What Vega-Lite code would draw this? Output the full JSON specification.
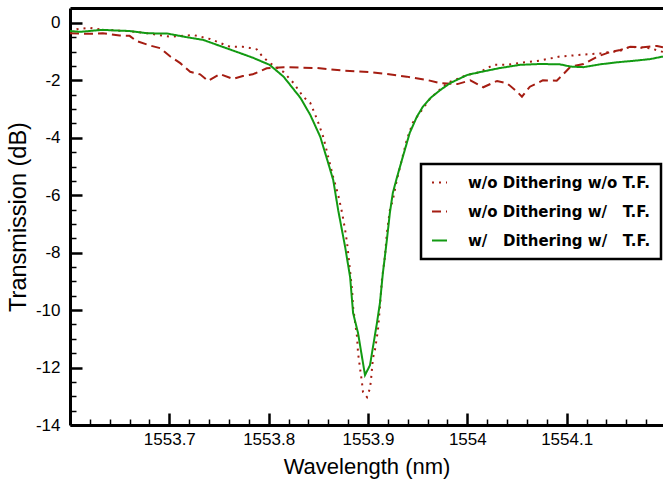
{
  "$schema": "https://vega.github.io/schema/vega-lite/v6.json",
  "width": 593,
  "height": 417,
  "autosize": {"type": "none"},
  "padding": {"left": 70, "top": 8, "right": 0, "bottom": 55},
  "background": "white",
  "config": {
    "view": {"stroke": null},
    "font": "Liberation Sans",
    "legend": {"strokeWidth": 2.5},
    "axis": {"domainColor": "black", "tickColor": "black", "labelColor": "black", "titleColor": "black", "grid": false, "labelFont": "Liberation Sans", "titleFont": "Liberation Sans"}
  },
  "data": {
    "values": [
      {"series": "w/o Dithering w/o T.F.", "wl": 1553.600, "t": -0.31},
      {"series": "w/o Dithering w/o T.F.", "wl": 1553.607, "t": -0.22},
      {"series": "w/o Dithering w/o T.F.", "wl": 1553.620, "t": -0.17},
      {"series": "w/o Dithering w/o T.F.", "wl": 1553.633, "t": -0.24},
      {"series": "w/o Dithering w/o T.F.", "wl": 1553.657, "t": -0.28},
      {"series": "w/o Dithering w/o T.F.", "wl": 1553.678, "t": -0.36},
      {"series": "w/o Dithering w/o T.F.", "wl": 1553.701, "t": -0.48},
      {"series": "w/o Dithering w/o T.F.", "wl": 1553.724, "t": -0.42},
      {"series": "w/o Dithering w/o T.F.", "wl": 1553.741, "t": -0.56},
      {"series": "w/o Dithering w/o T.F.", "wl": 1553.761, "t": -0.83},
      {"series": "w/o Dithering w/o T.F.", "wl": 1553.774, "t": -0.83},
      {"series": "w/o Dithering w/o T.F.", "wl": 1553.781, "t": -0.87},
      {"series": "w/o Dithering w/o T.F.", "wl": 1553.788, "t": -0.92},
      {"series": "w/o Dithering w/o T.F.", "wl": 1553.794, "t": -1.18},
      {"series": "w/o Dithering w/o T.F.", "wl": 1553.801, "t": -1.39},
      {"series": "w/o Dithering w/o T.F.", "wl": 1553.815, "t": -1.71},
      {"series": "w/o Dithering w/o T.F.", "wl": 1553.825, "t": -2.09},
      {"series": "w/o Dithering w/o T.F.", "wl": 1553.835, "t": -2.58},
      {"series": "w/o Dithering w/o T.F.", "wl": 1553.842, "t": -2.79},
      {"series": "w/o Dithering w/o T.F.", "wl": 1553.849, "t": -3.38},
      {"series": "w/o Dithering w/o T.F.", "wl": 1553.855, "t": -3.97},
      {"series": "w/o Dithering w/o T.F.", "wl": 1553.860, "t": -4.67},
      {"series": "w/o Dithering w/o T.F.", "wl": 1553.865, "t": -5.37},
      {"series": "w/o Dithering w/o T.F.", "wl": 1553.870, "t": -5.99},
      {"series": "w/o Dithering w/o T.F.", "wl": 1553.874, "t": -6.62},
      {"series": "w/o Dithering w/o T.F.", "wl": 1553.877, "t": -7.21},
      {"series": "w/o Dithering w/o T.F.", "wl": 1553.879, "t": -7.67},
      {"series": "w/o Dithering w/o T.F.", "wl": 1553.884, "t": -9.30},
      {"series": "w/o Dithering w/o T.F.", "wl": 1553.885, "t": -9.89},
      {"series": "w/o Dithering w/o T.F.", "wl": 1553.889, "t": -10.94},
      {"series": "w/o Dithering w/o T.F.", "wl": 1553.890, "t": -11.50},
      {"series": "w/o Dithering w/o T.F.", "wl": 1553.892, "t": -12.02},
      {"series": "w/o Dithering w/o T.F.", "wl": 1553.894, "t": -12.54},
      {"series": "w/o Dithering w/o T.F.", "wl": 1553.895, "t": -12.86},
      {"series": "w/o Dithering w/o T.F.", "wl": 1553.899, "t": -13.03},
      {"series": "w/o Dithering w/o T.F.", "wl": 1553.902, "t": -12.72},
      {"series": "w/o Dithering w/o T.F.", "wl": 1553.903, "t": -12.44},
      {"series": "w/o Dithering w/o T.F.", "wl": 1553.905, "t": -11.67},
      {"series": "w/o Dithering w/o T.F.", "wl": 1553.907, "t": -11.39},
      {"series": "w/o Dithering w/o T.F.", "wl": 1553.910, "t": -10.70},
      {"series": "w/o Dithering w/o T.F.", "wl": 1553.912, "t": -9.89},
      {"series": "w/o Dithering w/o T.F.", "wl": 1553.914, "t": -8.95},
      {"series": "w/o Dithering w/o T.F.", "wl": 1553.917, "t": -8.15},
      {"series": "w/o Dithering w/o T.F.", "wl": 1553.919, "t": -7.32},
      {"series": "w/o Dithering w/o T.F.", "wl": 1553.922, "t": -6.52},
      {"series": "w/o Dithering w/o T.F.", "wl": 1553.925, "t": -6.17},
      {"series": "w/o Dithering w/o T.F.", "wl": 1553.929, "t": -5.47},
      {"series": "w/o Dithering w/o T.F.", "wl": 1553.934, "t": -4.77},
      {"series": "w/o Dithering w/o T.F.", "wl": 1553.939, "t": -4.08},
      {"series": "w/o Dithering w/o T.F.", "wl": 1553.945, "t": -3.48},
      {"series": "w/o Dithering w/o T.F.", "wl": 1553.963, "t": -2.61},
      {"series": "w/o Dithering w/o T.F.", "wl": 1553.980, "t": -2.09},
      {"series": "w/o Dithering w/o T.F.", "wl": 1554.000, "t": -1.81},
      {"series": "w/o Dithering w/o T.F.", "wl": 1554.013, "t": -1.71},
      {"series": "w/o Dithering w/o T.F.", "wl": 1554.026, "t": -1.46},
      {"series": "w/o Dithering w/o T.F.", "wl": 1554.040, "t": -1.46},
      {"series": "w/o Dithering w/o T.F.", "wl": 1554.053, "t": -1.39},
      {"series": "w/o Dithering w/o T.F.", "wl": 1554.073, "t": -1.31},
      {"series": "w/o Dithering w/o T.F.", "wl": 1554.093, "t": -1.17},
      {"series": "w/o Dithering w/o T.F.", "wl": 1554.114, "t": -1.11},
      {"series": "w/o Dithering w/o T.F.", "wl": 1554.134, "t": -1.06},
      {"series": "w/o Dithering w/o T.F.", "wl": 1554.154, "t": -0.97},
      {"series": "w/o Dithering w/o T.F.", "wl": 1554.164, "t": -0.83},
      {"series": "w/o Dithering w/o T.F.", "wl": 1554.174, "t": -0.86},
      {"series": "w/o Dithering w/o T.F.", "wl": 1554.184, "t": -0.88},
      {"series": "w/o Dithering w/o T.F.", "wl": 1554.197, "t": -1.01},

      {"series": "w/o Dithering w/\u00a0\u00a0\u00a0T.F.", "wl": 1553.600, "t": -0.36},
      {"series": "w/o Dithering w/\u00a0\u00a0\u00a0T.F.", "wl": 1553.617, "t": -0.38},
      {"series": "w/o Dithering w/\u00a0\u00a0\u00a0T.F.", "wl": 1553.633, "t": -0.36},
      {"series": "w/o Dithering w/\u00a0\u00a0\u00a0T.F.", "wl": 1553.650, "t": -0.44},
      {"series": "w/o Dithering w/\u00a0\u00a0\u00a0T.F.", "wl": 1553.660, "t": -0.45},
      {"series": "w/o Dithering w/\u00a0\u00a0\u00a0T.F.", "wl": 1553.667, "t": -0.63},
      {"series": "w/o Dithering w/\u00a0\u00a0\u00a0T.F.", "wl": 1553.681, "t": -0.79},
      {"series": "w/o Dithering w/\u00a0\u00a0\u00a0T.F.", "wl": 1553.691, "t": -0.88},
      {"series": "w/o Dithering w/\u00a0\u00a0\u00a0T.F.", "wl": 1553.701, "t": -1.17},
      {"series": "w/o Dithering w/\u00a0\u00a0\u00a0T.F.", "wl": 1553.711, "t": -1.40},
      {"series": "w/o Dithering w/\u00a0\u00a0\u00a0T.F.", "wl": 1553.721, "t": -1.70},
      {"series": "w/o Dithering w/\u00a0\u00a0\u00a0T.F.", "wl": 1553.731, "t": -1.79},
      {"series": "w/o Dithering w/\u00a0\u00a0\u00a0T.F.", "wl": 1553.739, "t": -2.02},
      {"series": "w/o Dithering w/\u00a0\u00a0\u00a0T.F.", "wl": 1553.751, "t": -1.78},
      {"series": "w/o Dithering w/\u00a0\u00a0\u00a0T.F.", "wl": 1553.764, "t": -1.95},
      {"series": "w/o Dithering w/\u00a0\u00a0\u00a0T.F.", "wl": 1553.774, "t": -1.85},
      {"series": "w/o Dithering w/\u00a0\u00a0\u00a0T.F.", "wl": 1553.784, "t": -1.79},
      {"series": "w/o Dithering w/\u00a0\u00a0\u00a0T.F.", "wl": 1553.798, "t": -1.58},
      {"series": "w/o Dithering w/\u00a0\u00a0\u00a0T.F.", "wl": 1553.815, "t": -1.54},
      {"series": "w/o Dithering w/\u00a0\u00a0\u00a0T.F.", "wl": 1553.849, "t": -1.57},
      {"series": "w/o Dithering w/\u00a0\u00a0\u00a0T.F.", "wl": 1553.875, "t": -1.66},
      {"series": "w/o Dithering w/\u00a0\u00a0\u00a0T.F.", "wl": 1553.902, "t": -1.71},
      {"series": "w/o Dithering w/\u00a0\u00a0\u00a0T.F.", "wl": 1553.919, "t": -1.78},
      {"series": "w/o Dithering w/\u00a0\u00a0\u00a0T.F.", "wl": 1553.939, "t": -1.87},
      {"series": "w/o Dithering w/\u00a0\u00a0\u00a0T.F.", "wl": 1553.960, "t": -1.99},
      {"series": "w/o Dithering w/\u00a0\u00a0\u00a0T.F.", "wl": 1553.973, "t": -2.10},
      {"series": "w/o Dithering w/\u00a0\u00a0\u00a0T.F.", "wl": 1553.990, "t": -2.13},
      {"series": "w/o Dithering w/\u00a0\u00a0\u00a0T.F.", "wl": 1554.003, "t": -2.00},
      {"series": "w/o Dithering w/\u00a0\u00a0\u00a0T.F.", "wl": 1554.016, "t": -2.24},
      {"series": "w/o Dithering w/\u00a0\u00a0\u00a0T.F.", "wl": 1554.030, "t": -2.02},
      {"series": "w/o Dithering w/\u00a0\u00a0\u00a0T.F.", "wl": 1554.040, "t": -2.10},
      {"series": "w/o Dithering w/\u00a0\u00a0\u00a0T.F.", "wl": 1554.050, "t": -2.39},
      {"series": "w/o Dithering w/\u00a0\u00a0\u00a0T.F.", "wl": 1554.055, "t": -2.57},
      {"series": "w/o Dithering w/\u00a0\u00a0\u00a0T.F.", "wl": 1554.063, "t": -2.22},
      {"series": "w/o Dithering w/\u00a0\u00a0\u00a0T.F.", "wl": 1554.076, "t": -2.00},
      {"series": "w/o Dithering w/\u00a0\u00a0\u00a0T.F.", "wl": 1554.090, "t": -2.01},
      {"series": "w/o Dithering w/\u00a0\u00a0\u00a0T.F.", "wl": 1554.096, "t": -1.81},
      {"series": "w/o Dithering w/\u00a0\u00a0\u00a0T.F.", "wl": 1554.104, "t": -1.52},
      {"series": "w/o Dithering w/\u00a0\u00a0\u00a0T.F.", "wl": 1554.117, "t": -1.43},
      {"series": "w/o Dithering w/\u00a0\u00a0\u00a0T.F.", "wl": 1554.131, "t": -1.17},
      {"series": "w/o Dithering w/\u00a0\u00a0\u00a0T.F.", "wl": 1554.144, "t": -1.01},
      {"series": "w/o Dithering w/\u00a0\u00a0\u00a0T.F.", "wl": 1554.154, "t": -0.94},
      {"series": "w/o Dithering w/\u00a0\u00a0\u00a0T.F.", "wl": 1554.164, "t": -0.83},
      {"series": "w/o Dithering w/\u00a0\u00a0\u00a0T.F.", "wl": 1554.177, "t": -0.85},
      {"series": "w/o Dithering w/\u00a0\u00a0\u00a0T.F.", "wl": 1554.191, "t": -0.80},
      {"series": "w/o Dithering w/\u00a0\u00a0\u00a0T.F.", "wl": 1554.197, "t": -0.85},

      {"series": "w/\u00a0\u00a0\u00a0Dithering w/\u00a0\u00a0\u00a0T.F.", "wl": 1553.600, "t": -0.28},
      {"series": "w/\u00a0\u00a0\u00a0Dithering w/\u00a0\u00a0\u00a0T.F.", "wl": 1553.610, "t": -0.31},
      {"series": "w/\u00a0\u00a0\u00a0Dithering w/\u00a0\u00a0\u00a0T.F.", "wl": 1553.633, "t": -0.24},
      {"series": "w/\u00a0\u00a0\u00a0Dithering w/\u00a0\u00a0\u00a0T.F.", "wl": 1553.650, "t": -0.27},
      {"series": "w/\u00a0\u00a0\u00a0Dithering w/\u00a0\u00a0\u00a0T.F.", "wl": 1553.660, "t": -0.28},
      {"series": "w/\u00a0\u00a0\u00a0Dithering w/\u00a0\u00a0\u00a0T.F.", "wl": 1553.678, "t": -0.36},
      {"series": "w/\u00a0\u00a0\u00a0Dithering w/\u00a0\u00a0\u00a0T.F.", "wl": 1553.698, "t": -0.37},
      {"series": "w/\u00a0\u00a0\u00a0Dithering w/\u00a0\u00a0\u00a0T.F.", "wl": 1553.718, "t": -0.50},
      {"series": "w/\u00a0\u00a0\u00a0Dithering w/\u00a0\u00a0\u00a0T.F.", "wl": 1553.734, "t": -0.59},
      {"series": "w/\u00a0\u00a0\u00a0Dithering w/\u00a0\u00a0\u00a0T.F.", "wl": 1553.751, "t": -0.80},
      {"series": "w/\u00a0\u00a0\u00a0Dithering w/\u00a0\u00a0\u00a0T.F.", "wl": 1553.768, "t": -1.01},
      {"series": "w/\u00a0\u00a0\u00a0Dithering w/\u00a0\u00a0\u00a0T.F.", "wl": 1553.784, "t": -1.21},
      {"series": "w/\u00a0\u00a0\u00a0Dithering w/\u00a0\u00a0\u00a0T.F.", "wl": 1553.801, "t": -1.46},
      {"series": "w/\u00a0\u00a0\u00a0Dithering w/\u00a0\u00a0\u00a0T.F.", "wl": 1553.815, "t": -1.87},
      {"series": "w/\u00a0\u00a0\u00a0Dithering w/\u00a0\u00a0\u00a0T.F.", "wl": 1553.832, "t": -2.61},
      {"series": "w/\u00a0\u00a0\u00a0Dithering w/\u00a0\u00a0\u00a0T.F.", "wl": 1553.842, "t": -3.21},
      {"series": "w/\u00a0\u00a0\u00a0Dithering w/\u00a0\u00a0\u00a0T.F.", "wl": 1553.852, "t": -3.97},
      {"series": "w/\u00a0\u00a0\u00a0Dithering w/\u00a0\u00a0\u00a0T.F.", "wl": 1553.859, "t": -4.77},
      {"series": "w/\u00a0\u00a0\u00a0Dithering w/\u00a0\u00a0\u00a0T.F.", "wl": 1553.865, "t": -5.47},
      {"series": "w/\u00a0\u00a0\u00a0Dithering w/\u00a0\u00a0\u00a0T.F.", "wl": 1553.870, "t": -6.52},
      {"series": "w/\u00a0\u00a0\u00a0Dithering w/\u00a0\u00a0\u00a0T.F.", "wl": 1553.877, "t": -7.80},
      {"series": "w/\u00a0\u00a0\u00a0Dithering w/\u00a0\u00a0\u00a0T.F.", "wl": 1553.882, "t": -8.85},
      {"series": "w/\u00a0\u00a0\u00a0Dithering w/\u00a0\u00a0\u00a0T.F.", "wl": 1553.885, "t": -10.10},
      {"series": "w/\u00a0\u00a0\u00a0Dithering w/\u00a0\u00a0\u00a0T.F.", "wl": 1553.890, "t": -10.80},
      {"series": "w/\u00a0\u00a0\u00a0Dithering w/\u00a0\u00a0\u00a0T.F.", "wl": 1553.894, "t": -11.64},
      {"series": "w/\u00a0\u00a0\u00a0Dithering w/\u00a0\u00a0\u00a0T.F.", "wl": 1553.897, "t": -12.26},
      {"series": "w/\u00a0\u00a0\u00a0Dithering w/\u00a0\u00a0\u00a0T.F.", "wl": 1553.902, "t": -11.92},
      {"series": "w/\u00a0\u00a0\u00a0Dithering w/\u00a0\u00a0\u00a0T.F.", "wl": 1553.905, "t": -11.29},
      {"series": "w/\u00a0\u00a0\u00a0Dithering w/\u00a0\u00a0\u00a0T.F.", "wl": 1553.909, "t": -10.45},
      {"series": "w/\u00a0\u00a0\u00a0Dithering w/\u00a0\u00a0\u00a0T.F.", "wl": 1553.912, "t": -9.76},
      {"series": "w/\u00a0\u00a0\u00a0Dithering w/\u00a0\u00a0\u00a0T.F.", "wl": 1553.915, "t": -8.71},
      {"series": "w/\u00a0\u00a0\u00a0Dithering w/\u00a0\u00a0\u00a0T.F.", "wl": 1553.919, "t": -7.56},
      {"series": "w/\u00a0\u00a0\u00a0Dithering w/\u00a0\u00a0\u00a0T.F.", "wl": 1553.922, "t": -6.62},
      {"series": "w/\u00a0\u00a0\u00a0Dithering w/\u00a0\u00a0\u00a0T.F.", "wl": 1553.925, "t": -5.92},
      {"series": "w/\u00a0\u00a0\u00a0Dithering w/\u00a0\u00a0\u00a0T.F.", "wl": 1553.929, "t": -5.40},
      {"series": "w/\u00a0\u00a0\u00a0Dithering w/\u00a0\u00a0\u00a0T.F.", "wl": 1553.935, "t": -4.67},
      {"series": "w/\u00a0\u00a0\u00a0Dithering w/\u00a0\u00a0\u00a0T.F.", "wl": 1553.942, "t": -3.83},
      {"series": "w/\u00a0\u00a0\u00a0Dithering w/\u00a0\u00a0\u00a0T.F.", "wl": 1553.949, "t": -3.28},
      {"series": "w/\u00a0\u00a0\u00a0Dithering w/\u00a0\u00a0\u00a0T.F.", "wl": 1553.955, "t": -2.93},
      {"series": "w/\u00a0\u00a0\u00a0Dithering w/\u00a0\u00a0\u00a0T.F.", "wl": 1553.963, "t": -2.61},
      {"series": "w/\u00a0\u00a0\u00a0Dithering w/\u00a0\u00a0\u00a0T.F.", "wl": 1553.973, "t": -2.33},
      {"series": "w/\u00a0\u00a0\u00a0Dithering w/\u00a0\u00a0\u00a0T.F.", "wl": 1553.983, "t": -2.09},
      {"series": "w/\u00a0\u00a0\u00a0Dithering w/\u00a0\u00a0\u00a0T.F.", "wl": 1554.000, "t": -1.81},
      {"series": "w/\u00a0\u00a0\u00a0Dithering w/\u00a0\u00a0\u00a0T.F.", "wl": 1554.013, "t": -1.71},
      {"series": "w/\u00a0\u00a0\u00a0Dithering w/\u00a0\u00a0\u00a0T.F.", "wl": 1554.033, "t": -1.57},
      {"series": "w/\u00a0\u00a0\u00a0Dithering w/\u00a0\u00a0\u00a0T.F.", "wl": 1554.053, "t": -1.46},
      {"series": "w/\u00a0\u00a0\u00a0Dithering w/\u00a0\u00a0\u00a0T.F.", "wl": 1554.073, "t": -1.43},
      {"series": "w/\u00a0\u00a0\u00a0Dithering w/\u00a0\u00a0\u00a0T.F.", "wl": 1554.093, "t": -1.44},
      {"series": "w/\u00a0\u00a0\u00a0Dithering w/\u00a0\u00a0\u00a0T.F.", "wl": 1554.104, "t": -1.52},
      {"series": "w/\u00a0\u00a0\u00a0Dithering w/\u00a0\u00a0\u00a0T.F.", "wl": 1554.117, "t": -1.54},
      {"series": "w/\u00a0\u00a0\u00a0Dithering w/\u00a0\u00a0\u00a0T.F.", "wl": 1554.134, "t": -1.44},
      {"series": "w/\u00a0\u00a0\u00a0Dithering w/\u00a0\u00a0\u00a0T.F.", "wl": 1554.151, "t": -1.37},
      {"series": "w/\u00a0\u00a0\u00a0Dithering w/\u00a0\u00a0\u00a0T.F.", "wl": 1554.167, "t": -1.32},
      {"series": "w/\u00a0\u00a0\u00a0Dithering w/\u00a0\u00a0\u00a0T.F.", "wl": 1554.184, "t": -1.26},
      {"series": "w/\u00a0\u00a0\u00a0Dithering w/\u00a0\u00a0\u00a0T.F.", "wl": 1554.197, "t": -1.17}
    ]
  },
  "resolve": {"axis": {"x": "independent", "y": "independent"}},
  "layer": [
    {
      "mark": {"type": "line", "strokeWidth": 2, "clip": true},
      "encoding": {
        "x": {
          "field": "wl", "type": "quantitative",
          "scale": {"domain": [1553.6, 1554.197], "nice": false, "zero": false},
          "axis": {
            "orient": "bottom", "title": "Wavelength (nm)",
            "values": [1553.7, 1553.8, 1553.9, 1554.0, 1554.1],
            "labelExpr": "'' + datum.value",
            "domainWidth": 3, "tickSize": -12, "tickWidth": 2.5,
            "labelFontSize": 17, "labelPadding": 18, "labelFlush": false,
            "titleFontSize": 22, "titleFontWeight": "normal",
            "titleY": 41, "titleBaseline": "middle"
          }
        },
        "y": {
          "field": "t", "type": "quantitative",
          "scale": {"domain": [-14, 0.52], "nice": false, "zero": false},
          "axis": {
            "orient": "left", "title": "Transmission (dB)",
            "values": [-14, -12, -10, -8, -6, -4, -2, 0],
            "labelExpr": "'' + datum.value",
            "domainWidth": 3, "tickSize": -12, "tickWidth": 2.5,
            "labelFontSize": 17, "labelPadding": 22, "labelFlush": false,
            "titleFontSize": 23.5, "titleFontWeight": "normal",
            "titleX": -52, "titleBaseline": "middle"
          }
        },
        "color": {
          "field": "series", "type": "nominal",
          "scale": {
            "domain": ["w/o Dithering w/o T.F.", "w/o Dithering w/\u00a0\u00a0\u00a0T.F.", "w/\u00a0\u00a0\u00a0Dithering w/\u00a0\u00a0\u00a0T.F."],
            "range": ["#a51d12", "#a51d12", "#129a12"]
          },
          "legend": {
            "title": null, "orient": "none", "legendX": 351, "legendY": 156,
            "strokeColor": "black", "fillColor": "white",
            "padding": 10, "rowPadding": 12, "symbolType": "stroke", "symbolSize": 225,
            "symbolStrokeWidth": 2, "labelOffset": 20,
            "labelFont": "DejaVu Sans", "labelFontSize": 15, "labelFontWeight": "bold", "labelColor": "black", "labelLimit": 400
          }
        },
        "strokeDash": {
          "field": "series", "type": "nominal",
          "scale": {
            "domain": ["w/o Dithering w/o T.F.", "w/o Dithering w/\u00a0\u00a0\u00a0T.F.", "w/\u00a0\u00a0\u00a0Dithering w/\u00a0\u00a0\u00a0T.F."],
            "range": [[2, 5], [9, 5], [1, 0]]
          },
          "legend": {
            "title": null, "orient": "none", "legendX": 351, "legendY": 156,
            "strokeColor": "black", "fillColor": "white",
            "padding": 10, "rowPadding": 12, "symbolType": "stroke", "symbolSize": 225,
            "symbolStrokeWidth": 2, "labelOffset": 20,
            "labelFont": "DejaVu Sans", "labelFontSize": 15, "labelFontWeight": "bold", "labelColor": "black", "labelLimit": 400
          }
        }
      }
    },
    {
      "mark": {"type": "line", "strokeOpacity": 0},
      "encoding": {
        "x": {
          "field": "wl", "type": "quantitative",
          "axis": {
            "orient": "bottom", "title": null, "labels": false, "domain": false,
            "values": [1553.62, 1553.64, 1553.66, 1553.68, 1553.72, 1553.74, 1553.76, 1553.78, 1553.82, 1553.84, 1553.86, 1553.88, 1553.92, 1553.94, 1553.96, 1553.98, 1554.02, 1554.04, 1554.06, 1554.08, 1554.12, 1554.14, 1554.16, 1554.18],
            "tickSize": -6, "tickWidth": 1.5
          }
        },
        "y": {
          "field": "t", "type": "quantitative",
          "axis": {
            "orient": "left", "title": null, "labels": false, "domain": false,
            "values": [-13.5, -13, -12.5, -11.5, -11, -10.5, -9.5, -9, -8.5, -7.5, -7, -6.5, -5.5, -5, -4.5, -3.5, -3, -2.5, -1.5, -1, -0.5],
            "tickSize": -6, "tickWidth": 1.5
          }
        }
      }
    },
    {
      "mark": {"type": "line", "strokeOpacity": 0},
      "encoding": {
        "x": {
          "field": "wl", "type": "quantitative",
          "axis": {"orient": "top", "title": null, "labels": false, "ticks": false, "domainWidth": 3}
        },
        "y": {"field": "t", "type": "quantitative", "axis": null}
      }
    }
  ]
}
